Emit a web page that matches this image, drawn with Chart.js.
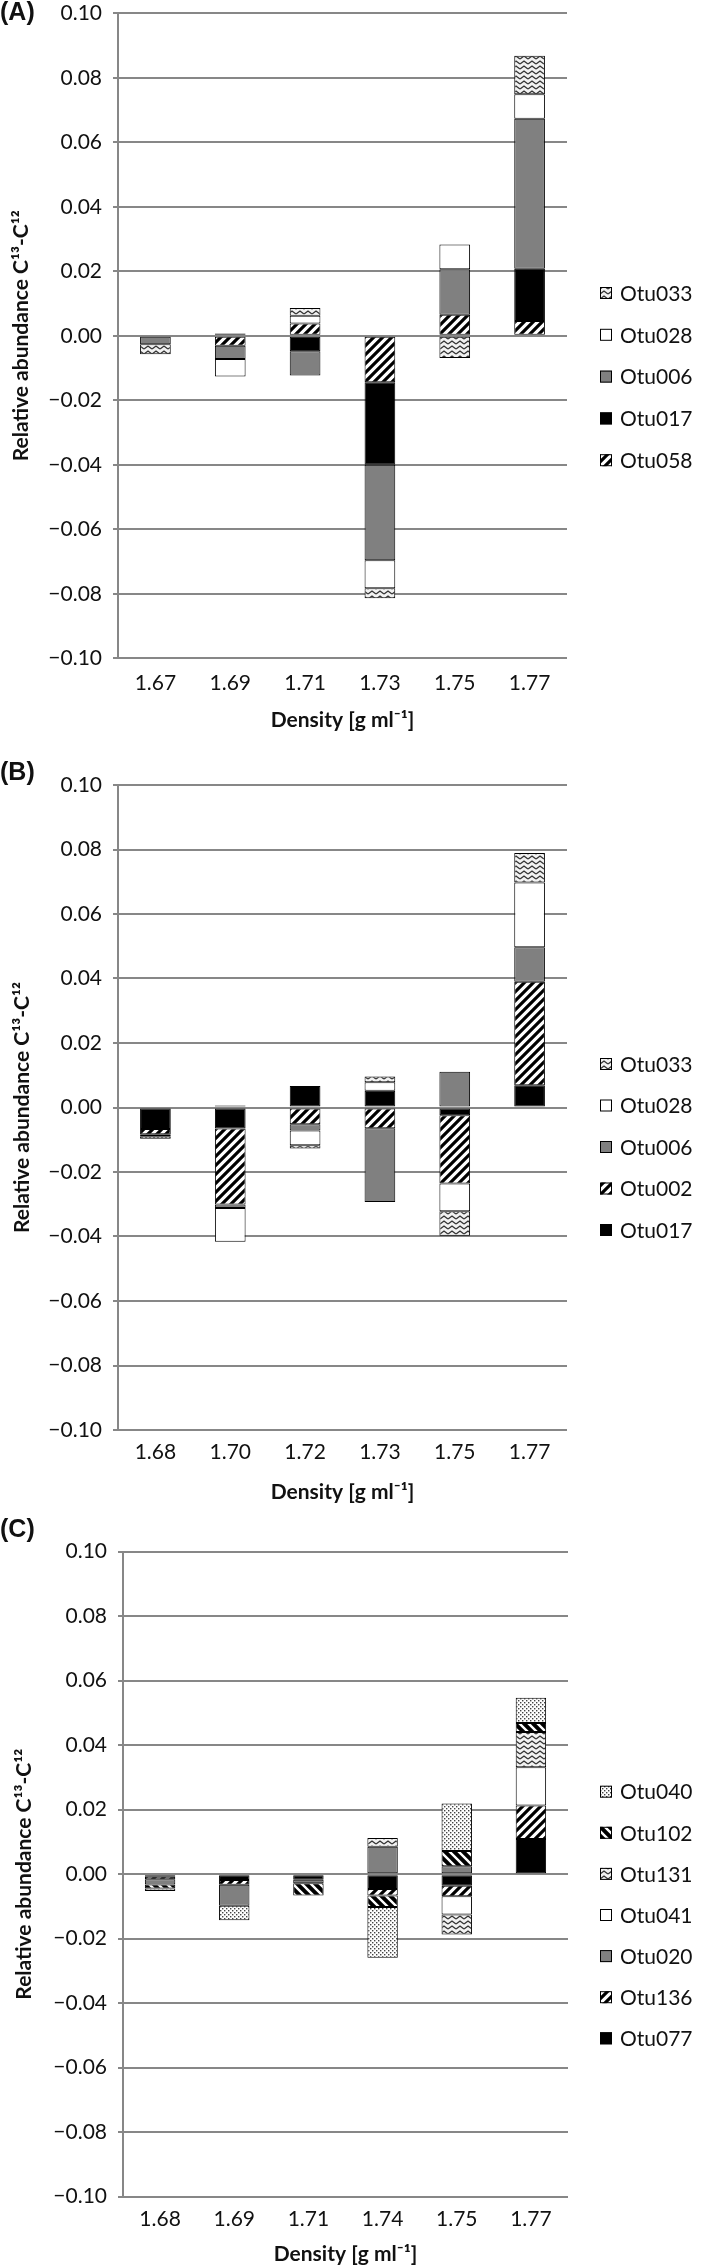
<!DOCTYPE html>
<html>
<head>
<meta charset="utf-8">
<script src="https://cdn.jsdelivr.net/npm/chart.js@4.4.1/dist/chart.umd.min.js"></script>
<style>
  body { margin: 0; background: #fff; width: 709px; height: 2267px; position: relative; overflow: hidden; }
  canvas { position: absolute; left: 0; }
  .tag { position: absolute; left: 0; font: bold 25px 'Liberation Sans', Arial, sans-serif; color: #111; z-index: 2; }
</style>
</head>
<body>
<canvas id="chartA" width="709" height="760" style="top:0px"></canvas>
<canvas id="chartB" width="709" height="750" style="top:760px"></canvas>
<canvas id="chartC" width="709" height="757" style="top:1510px"></canvas>
<div class="tag" style="top:-3px">(A)</div>
<div class="tag" style="top:757px">(B)</div>
<div class="tag" style="top:1514px">(C)</div>
<script>
// Panel A
const densA = ['1.67', '1.69', '1.71', '1.73', '1.75', '1.77'];
const otu058A = [0, -0.0031, 0.0038, -0.0144, 0.0065, 0.0046];
const otu017A = [0, 0.0007, -0.0048, -0.0256, 0, 0.0162];
const otu006A = [-0.0026, -0.0041, -0.0075, -0.0296, 0.0141, 0.0465];
const otu028A = [0, -0.0054, 0.0024, -0.0087, 0.0077, 0.0076];
const otu033A = [-0.0031, 0, 0.0024, -0.0031, -0.0069, 0.0119];

// Panel B
const densB = ['1.68', '1.70', '1.72', '1.73', '1.75', '1.77'];
const otu017B = [-0.0067, -0.0065, 0.0067, 0.0052, -0.0024, 0.0069];
const otu002B = [-0.0016, -0.0236, -0.0052, -0.0064, -0.0212, 0.0321];
const otu006B = [-0.0006, -0.0011, -0.0019, -0.0229, 0.0111, 0.0107];
const otu028B = [0, -0.0104, -0.0046, 0.0026, -0.0086, 0.0201];
const otu033B = [-0.0008, 0.0006, -0.0010, 0.0018, -0.0076, 0.0091];

// Panel C
const densC = ['1.68', '1.69', '1.71', '1.74', '1.75', '1.77'];
const otu077C = [-0.0008, -0.0018, -0.0017, -0.0046, -0.0036, 0.0109];
const otu136C = [-0.0008, -0.0015, 0, -0.0020, -0.0032, 0.0104];
const otu020C = [-0.0016, -0.0065, -0.0011, 0.0085, 0.0025, 0];
const otu041C = [0, 0, 0, 0, -0.0057, 0.0119];
const otu131C = [0, 0, 0, 0.0027, -0.0062, 0.0109];
const otu102C = [-0.0012, 0, -0.0038, -0.0036, 0.0047, 0.0028];
const otu040C = [-0.0008, -0.0045, 0, -0.0157, 0.0147, 0.0078];

const yTicks = { min: -0.1, max: 0.1, step: 0.02 };

Chart.defaults.font.family = 'Lato, sans-serif';
Chart.defaults.color = '#111';

// fill patterns like the excel ones
function makePattern(kind) {
    const c = document.createElement('canvas');
    const g = c.getContext('2d');
    if (kind === 'hatch' || kind === 'backhatch') {
        const s = 9;
        c.width = s; c.height = s;
        g.fillStyle = kind === 'hatch' ? '#fff' : '#000';
        g.fillRect(0, 0, s, s);
        g.strokeStyle = kind === 'hatch' ? '#000' : '#fff';
        g.lineWidth = kind === 'hatch' ? 3.2 : 2.4;
        g.beginPath();
        if (kind === 'hatch') {
            g.moveTo(-2, s + 2); g.lineTo(s + 2, -2);
            g.moveTo(-2, 2); g.lineTo(2, -2);
            g.moveTo(s - 2, s + 2); g.lineTo(s + 2, s - 2);
        } else {
            g.moveTo(-2, -2); g.lineTo(s + 2, s + 2);
            g.moveTo(s - 2, -2); g.lineTo(s + 2, 2);
            g.moveTo(-2, s - 2); g.lineTo(2, s + 2);
        }
        g.stroke();
    } else if (kind === 'zigzag') {
        c.width = 8; c.height = 5;
        g.fillStyle = '#f2f2f2';
        g.fillRect(0, 0, 8, 5);
        g.strokeStyle = '#333';
        g.lineWidth = 1.4;
        g.beginPath();
        g.moveTo(0, 4); g.lineTo(4, 1); g.lineTo(8, 4);
        g.stroke();
    } else if (kind === 'dots') {
        c.width = 4; c.height = 4;
        g.fillStyle = '#fff';
        g.fillRect(0, 0, 4, 4);
        g.fillStyle = '#444';
        g.fillRect(0, 0, 1.4, 1.4);
        g.fillRect(2, 2, 1.4, 1.4);
    }
    return g.createPattern(c, 'repeat');
}

const fills = {
    black: '#000000',
    grey: '#808080',
    white: '#ffffff',
    hatch: makePattern('hatch'),
    backhatch: makePattern('backhatch'),
    zigzag: makePattern('zigzag'),
    dots: makePattern('dots')
};

// legend drawn at the right, last series on top
const otuLegend = {
    id: 'otuLegend',
    afterDraw(chart, args, opts) {
        const ctx = chart.ctx;
        const sets = chart.data.datasets;
        ctx.save();
        ctx.font = '21px Lato, sans-serif';
        ctx.textBaseline = 'middle';
        for (let i = 0; i < sets.length; i++) {
            const ds = sets[sets.length - 1 - i];
            const y = opts.top + i * opts.step;
            ctx.fillStyle = ds.backgroundColor;
            ctx.fillRect(opts.x, y - 6, 12, 12);
            ctx.strokeStyle = '#000';
            ctx.lineWidth = 1;
            ctx.strokeRect(opts.x + 0.5, y - 5.5, 11, 11);
            ctx.fillStyle = '#111';
            ctx.fillText(ds.label, opts.x + 20, y + 1);
        }
        ctx.restore();
    }
};

function tickLabel(v) {
    if (Math.abs(v) < 1e-9) return '0.00';
    return v < 0 ? '\u2212' + (-v).toFixed(2) : v.toFixed(2);
}

function makePanel(id, labels, names, series, kinds, geo) {
    const canvas = document.getElementById(id);
    const H = canvas.height;
    const datasets = series.map((vals, i) => ({
        label: names[i],
        data: vals.map(v => v === 0 ? null : v),
        backgroundColor: fills[kinds[i]],
        borderColor: '#000',
        borderWidth: 1,
        borderSkipped: false,
        barPercentage: 0.41,
        categoryPercentage: 1.0
    }));

    return new Chart(canvas.getContext('2d'), {
        type: 'bar',
        data: { labels: labels, datasets: datasets },
        plugins: [otuLegend],
        options: {
            responsive: false,
            animation: false,
            devicePixelRatio: 1,
            layout: { padding: { top: geo.top, right: 709 - geo.right, left: 0, bottom: 0 } },
            plugins: {
                legend: { display: false },
                tooltip: { enabled: false },
                otuLegend: { x: 600, top: geo.legendTop, step: geo.legendStep }
            },
            scales: {
                x: {
                    stacked: true,
                    grid: { display: false, drawTicks: false },
                    border: { display: false },
                    ticks: { font: { size: 21 }, padding: geo.tickPad, color: '#111' },
                    title: {
                        display: true,
                        text: 'Density [g ml\u207B\u00B9]',
                        font: { size: 21, weight: 'bold' },
                        color: '#111',
                        padding: { top: 0, bottom: geo.titlePad }
                    },
                    afterFit(s) {
                        s.height = H - geo.bottom;
                        s.paddingLeft = 0;
                        s.paddingRight = 0;
                    }
                },
                y: {
                    stacked: true,
                    min: yTicks.min,
                    max: yTicks.max,
                    ticks: {
                        stepSize: yTicks.step,
                        font: { size: 21 },
                        padding: 11,
                        color: '#111',
                        callback: tickLabel
                    },
                    grid: { color: '#878787', lineWidth: 2, tickLength: 5 },
                    border: { display: true, color: '#878787', width: 2 },
                    title: {
                        display: true,
                        text: 'Relative abundance C\u00B9\u00B3-C\u00B9\u00B2',
                        font: { size: 21, weight: 'bold' },
                        color: '#111',
                        padding: { top: geo.yTitlePad, bottom: 0 }
                    },
                    afterFit(s) {
                        s.width = geo.left;
                        s.paddingTop = 0;
                        s.paddingBottom = 0;
                    }
                }
            }
        }
    });
}

makePanel('chartA', densA,
    ['Otu058', 'Otu017', 'Otu006', 'Otu028', 'Otu033'],
    [otu058A, otu017A, otu006A, otu028A, otu033A],
    ['hatch', 'black', 'grey', 'white', 'zigzag'],
    { top: 13.3, bottom: 658.3, left: 118, right: 567, legendTop: 293, legendStep: 41.8, tickPad: 12, titlePad: 27, yTitlePad: 9 });

makePanel('chartB', densB,
    ['Otu017', 'Otu002', 'Otu006', 'Otu028', 'Otu033'],
    [otu017B, otu002B, otu006B, otu028B, otu033B],
    ['black', 'hatch', 'grey', 'white', 'zigzag'],
    { top: 25, bottom: 670, left: 118, right: 567, legendTop: 304, legendStep: 41.5, tickPad: 10, titlePad: 5, yTitlePad: 10 });

makePanel('chartC', densC,
    ['Otu077', 'Otu136', 'Otu020', 'Otu041', 'Otu131', 'Otu102', 'Otu040'],
    [otu077C, otu136C, otu020C, otu041C, otu131C, otu102C, otu040C],
    ['black', 'hatch', 'grey', 'white', 'zigzag', 'backhatch', 'dots'],
    { top: 41.7, bottom: 686.7, left: 123, right: 568, legendTop: 281.7, legendStep: 41.1, tickPad: 10, titlePad: 0, yTitlePad: 12 });
</script>
</body>
</html>
